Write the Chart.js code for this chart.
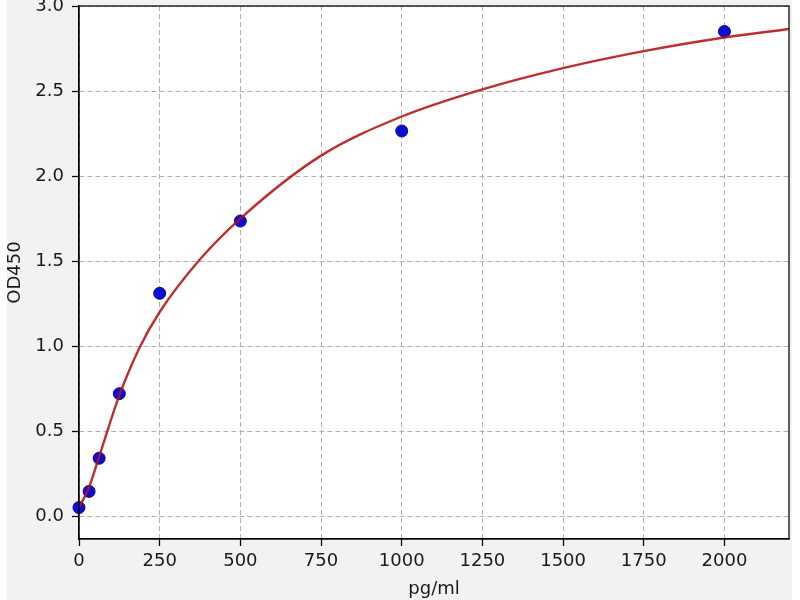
<!DOCTYPE html>
<html>
<head>
<meta charset="utf-8">
<title>OD450 standard curve</title>
<script src="https://cdn.jsdelivr.net/npm/chart.js@4.4.4/dist/chart.umd.min.js"></script>
<style>
    html, body { margin: 0; padding: 0; background: #ffffff; }
    canvas { display: block; }
</style>
</head>
<body>
<canvas id="curve" width="800" height="600"></canvas>
<script>
// measured standards
const concentrations = [0, 31.25, 62.5, 125, 250, 500, 1000, 2000];
const odValues = [0.05, 0.145, 0.34, 0.72, 1.31, 1.735, 2.265, 2.85];

// fitted curve
const fitX = [0, 31.25, 62.5, 125, 187.5, 250, 375, 500, 750, 1000, 1250, 1500, 1750, 2000, 2200];
const fitY = [0.05, 0.17, 0.35, 0.71, 0.99, 1.20, 1.51, 1.75, 2.12, 2.35, 2.51, 2.635, 2.735, 2.815, 2.865];

const xTicks = [0, 250, 500, 750, 1000, 1250, 1500, 1750, 2000];
const yTicks = [0.0, 0.5, 1.0, 1.5, 2.0, 2.5, 3.0];

const FONT = "'DejaVu Sans', sans-serif";

const figureBackground = {
    id: "figureBackground",
    beforeDraw(chart) {
        const { ctx, chartArea } = chart;
        ctx.save();
        ctx.fillStyle = "#ffffff";
        ctx.fillRect(0, 0, chart.width, chart.height);
        ctx.fillStyle = "#f2f2f2";
        ctx.fillRect(7, 0, 785, chart.height);
        ctx.fillStyle = "#ffffff";
        ctx.fillRect(chartArea.left, chartArea.top, chartArea.right - chartArea.left, chartArea.bottom - chartArea.top);
        ctx.restore();
    }
};

const frame = {
    id: "frame",
    afterDraw(chart) {
        const { ctx, chartArea } = chart;
        ctx.save();
        ctx.strokeStyle = "#000000";
        ctx.lineWidth = 1.25;
        ctx.strokeRect(chartArea.left, chartArea.top, chartArea.right - chartArea.left, chartArea.bottom - chartArea.top);
        ctx.restore();
    }
};

const axisCommon = {
    grid: {
        color: "#b0b0b0",
        lineWidth: 1,
        tickColor: "#000000",
        tickLength: 7,
        tickWidth: 1.25
    },
    border: {
        display: true,
        color: "#000000",
        width: 1.25,
        dash: [5, 3]
    }
};

new Chart(document.getElementById("curve"), {
    type: "scatter",
    data: {
        datasets: [
            {
                type: "line",
                label: "fit",
                data: fitX.map((x, i) => ({ x, y: fitY[i] })),
                borderColor: "rgba(178, 18, 18, 0.88)",
                borderWidth: 2.4,
                pointRadius: 0,
                fill: false,
                cubicInterpolationMode: "monotone",
                order: 1
            },
            {
                label: "standards",
                data: concentrations.map((x, i) => ({ x, y: odValues[i] })),
                backgroundColor: "#0c0cd2",
                borderColor: "#0a0a9a",
                borderWidth: 1,
                pointRadius: 6,
                clip: false,
                order: 2
            }
        ]
    },
    options: {
        responsive: false,
        animation: false,
        layout: {
            autoPadding: false,
            padding: { top: 6, right: 11, left: 0, bottom: 0 }
        },
        plugins: {
            legend: { display: false },
            tooltip: { enabled: false }
        },
        scales: {
            x: {
                ...axisCommon,
                type: "linear",
                min: 0,
                max: 2200,
                afterBuildTicks(scale) {
                    scale.ticks = xTicks.map(value => ({ value }));
                },
                afterFit(scale) {
                    scale.height = 61;
                    scale.paddingLeft = 0;
                    scale.paddingRight = 0;
                },
                ticks: {
                    color: "#1a1a1a",
                    padding: 5,
                    font: { family: FONT, size: 18 },
                    callback(value) {
                        return String(value);
                    }
                },
                title: {
                    display: true,
                    text: "pg/ml",
                    color: "#1a1a1a",
                    padding: { top: 0, bottom: 0 },
                    font: { family: FONT, size: 18 }
                }
            },
            y: {
                ...axisCommon,
                type: "linear",
                min: -0.135,
                max: 3.0,
                afterBuildTicks(scale) {
                    scale.ticks = yTicks.map(value => ({ value }));
                },
                afterFit(scale) {
                    scale.width = 79;
                    scale.paddingTop = 0;
                    scale.paddingBottom = 0;
                },
                ticks: {
                    color: "#1a1a1a",
                    padding: 8,
                    font: { family: FONT, size: 18 },
                    callback(value) {
                        return Number(value).toFixed(1);
                    }
                },
                title: {
                    display: true,
                    text: "OD450",
                    color: "#1a1a1a",
                    padding: { top: 5, bottom: 4 },
                    font: { family: FONT, size: 18 }
                }
            }
        }
    },
    plugins: [figureBackground, frame]
});
</script>
</body>
</html>
